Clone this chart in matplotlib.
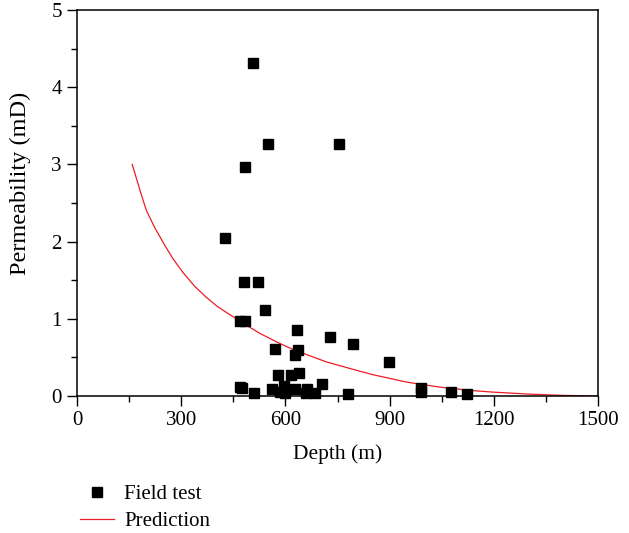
import matplotlib
matplotlib.use("Agg")
import matplotlib.pyplot as plt
from matplotlib.ticker import MultipleLocator

plt.rcParams['font.family'] = ['Liberation Serif', 'DejaVu Serif']

# Field test data (depth in m, permeability in mD)
field_depth = [506, 551, 754, 484, 426, 481, 521, 542, 469, 484,
               633, 727, 795, 570, 637, 627, 897, 639, 580, 617,
               704, 468, 476, 561, 597, 629, 661, 510, 584, 599,
               659, 685, 780, 991, 991, 1077, 1124]
field_perm = [4.31, 3.26, 3.26, 2.97, 2.05, 1.48, 1.48, 1.12, 0.975, 0.975,
              0.85, 0.77, 0.67, 0.61, 0.59, 0.53, 0.44, 0.30, 0.27, 0.27,
              0.155, 0.117, 0.10, 0.087, 0.13, 0.087, 0.087, 0.04, 0.056, 0.04,
              0.04, 0.04, 0.03, 0.11, 0.05, 0.05, 0.03]

# Prediction curve
pred_depth = [159, 171, 185, 200, 224, 253, 276, 305, 339, 372, 404, 431,
              479, 527, 575, 623, 671, 719, 767, 815, 853, 949, 1045, 1103,
              1132, 1199, 1295, 1391, 1496]
pred_perm = [3.00, 2.82, 2.61, 2.40, 2.18, 1.95, 1.78, 1.60, 1.42, 1.28, 1.16, 1.08,
             0.94, 0.81, 0.70, 0.60, 0.52, 0.44, 0.38, 0.32, 0.275, 0.18, 0.115, 0.087,
             0.072, 0.050, 0.026, 0.009, 0.0]

W, H = 629, 533
fig = plt.figure(figsize=(W / 100, H / 100), dpi=100)
ax = fig.add_axes([77 / W, 1 - 396 / H, (598 - 77) / W, (396 - 10) / H])

sc, = ax.plot(field_depth, field_perm, 's', color='black', markersize=7,
              linestyle='none', label='Field test', clip_on=False, zorder=3)
ln, = ax.plot(pred_depth, pred_perm, '-', color='#ee1c25', linewidth=0.9,
              label='Prediction', zorder=2, solid_joinstyle='round')

ax.set_xlim(0, 1500)
ax.set_ylim(0, 5)
ax.xaxis.set_major_locator(MultipleLocator(300))
ax.xaxis.set_minor_locator(MultipleLocator(150))
ax.yaxis.set_major_locator(MultipleLocator(1))
ax.yaxis.set_minor_locator(MultipleLocator(0.5))

ax.tick_params(which='major', direction='out', length=7, width=1.0, labelsize=15,
               top=False, right=False, colors='black', pad=4)
ax.tick_params(which='minor', direction='out', length=4, width=1.0,
               top=False, right=False)
for s in ax.spines.values():
    s.set_linewidth(1.1)

ax.set_xlabel('Depth (m)', fontsize=15.5, labelpad=10)
ax.set_ylabel('Permeability (mD)', fontsize=17.5)
ax.yaxis.set_label_coords(-0.089, 0.552)

fig.legend(handles=[sc, ln], loc='upper left', bbox_to_anchor=(72 / W, 1 - 476 / H),
           frameon=False, fontsize=15, handlelength=1.6, handletextpad=0.5,
           labelspacing=0.35, borderaxespad=0)

fig.savefig('out.png', dpi=100)
